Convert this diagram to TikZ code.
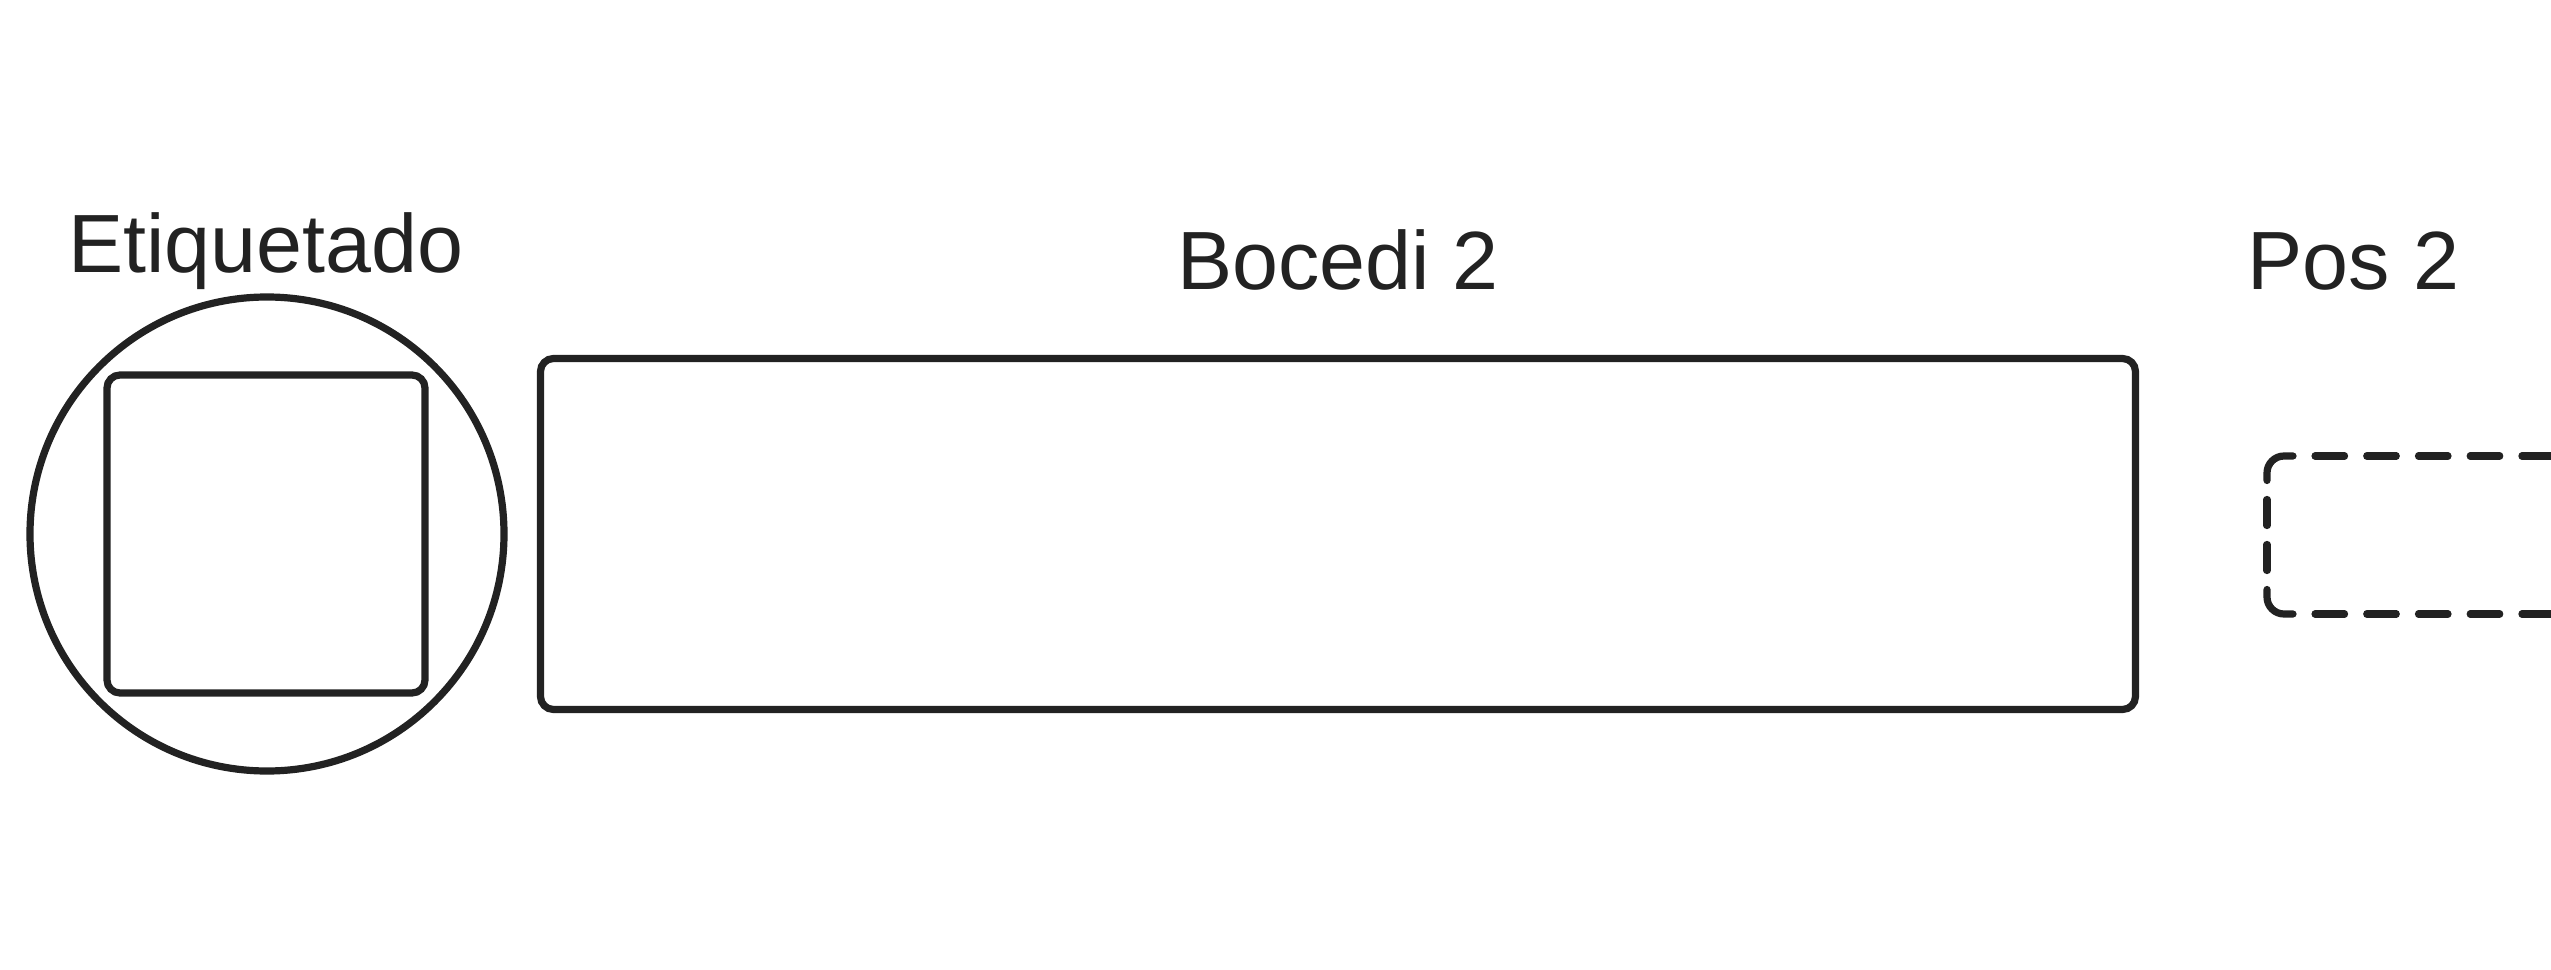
\documentclass[tikz,border=0pt]{standalone}
\usepackage{fontspec}
\usetikzlibrary{calc}
\setmainfont{Liberation Sans}
\definecolor{ink}{HTML}{222222}
\begin{document}
\begin{tikzpicture}[x=0.01cm,y=-0.01cm,
  shapeline/.style={draw=ink,line width=0.072cm,inner sep=0pt,outer sep=0pt},
  roundbox/.style={shapeline,rectangle,rounded corners=0.13cm},
  dashseg/.style={draw=ink,line width=0.072cm,line cap=round},
  cornerseg/.style={dashseg,rounded corners=0.17cm},
  dashrun/.style={dashseg,dash pattern=on 0.295cm off 0.222cm},
  ringshape/.style={shapeline,circle},
  lbl/.style={text=ink,font=\fontsize{23.5}{28}\selectfont,inner sep=0pt}]
\useasboundingbox (0,0) rectangle (2551,970);
\clip (0,0) rectangle (2551,970);
% Etiquetado
\node[ringshape,minimum size=0.01cm*474] (ring) at (267,534) {};
\node[roundbox,minimum width=0.01cm*318,minimum height=0.01cm*318] (sq) at (266,534) {};
\node[lbl,anchor=base] (lab1) at (266,273) {Etiquetado};
% Bocedi 2
\node[roundbox,minimum width=0.01cm*1595,minimum height=0.01cm*351] (boc) at (1338,534) {};
\node[lbl,anchor=base] (lab2) at (1338,290) {Bocedi 2};
% Pos 2 (dashed box, running off the right edge)
\node[rectangle,inner sep=0pt,outer sep=0pt,minimum width=0.01cm*500,minimum height=0.01cm*158] (pos) at (2517,535) {};
\draw[cornerseg] ($(pos.west)+(0,-54.5)$) -- (pos.north west) -- ($(pos.north west)+(26,0)$);
\draw[cornerseg] ($(pos.west)+(0,54.5)$) -- (pos.south west) -- ($(pos.south west)+(26,0)$);
\draw[dashseg] ($(pos.west)+(0,-35.5)$) -- ($(pos.west)+(0,-9.5)$);
\draw[dashseg] ($(pos.west)+(0,9.5)$) -- ($(pos.west)+(0,35.5)$);
\draw[dashrun] ($(pos.north west)+(48,0)$) -- (pos.north east);
\draw[dashrun] ($(pos.south west)+(48,0)$) -- (pos.south east);
\node[lbl,anchor=base west] (lab3) at (2247,290) {Pos 2};
\end{tikzpicture}
\end{document}
